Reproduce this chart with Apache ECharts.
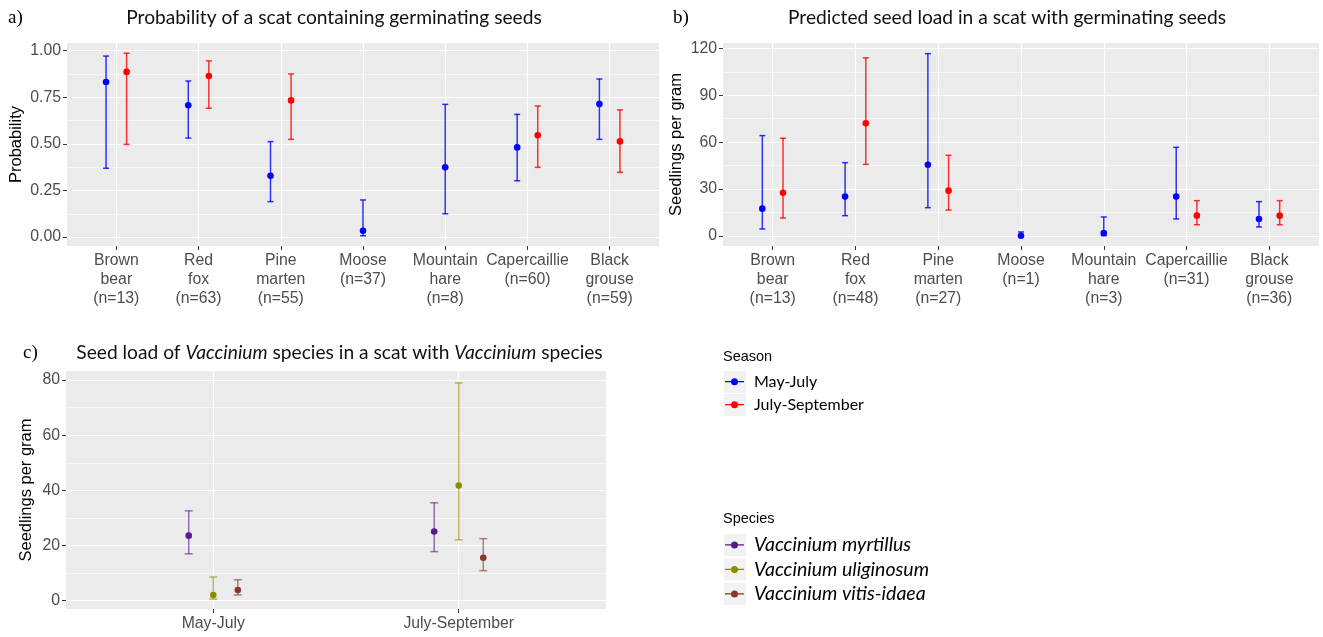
<!DOCTYPE html>
<html><head><meta charset="utf-8">
<script src="https://cdn.jsdelivr.net/npm/echarts@6/dist/echarts.min.js"></script>
<style>html,body{margin:0;padding:0;background:#fff}#c{width:1323px;height:637px}</style>
</head><body><div id="c"></div>
<script>
// ---------- data ----------
const labelsA = ['Brown\nbear\n(n=13)','Red\nfox\n(n=63)','Pine\nmarten\n(n=55)','Moose\n(n=37)','Mountain\nhare\n(n=8)','Capercaillie\n(n=60)','Black\ngrouse\n(n=59)'];
const labelsB = ['Brown\nbear\n(n=13)','Red\nfox\n(n=48)','Pine\nmarten\n(n=27)','Moose\n(n=1)','Mountain\nhare\n(n=3)','Capercaillie\n(n=31)','Black\ngrouse\n(n=36)'];
const seasons = ['May-July','July-September'];
const species = ['Vaccinium myrtillus','Vaccinium uliginosum','Vaccinium vitis-idaea'];

// Panel a: probability
const probMayMean = [0.832,0.707,0.329,0.034,0.374,0.481,0.714];
const probMayLo   = [0.369,0.531,0.190,0.007,0.125,0.302,0.524];
const probMayHi   = [0.971,0.837,0.512,0.199,0.712,0.658,0.848];
const probSepMean = [0.886,0.864,0.733,null,null,0.546,0.513];
const probSepLo   = [0.497,0.691,0.524,null,null,0.374,0.347];
const probSepHi   = [0.986,0.945,0.875,null,null,0.703,0.682];

// Panel b: seed load
const loadMayMean = [17.5,25.2,45.6,0.2,1.9,25.2,10.9];
const loadMayLo   = [4.5,13.0,18.1,0.0,0.2,10.9,5.8];
const loadMayHi   = [64.2,46.9,116.6,2.6,12.2,56.7,22.0];
const loadSepMean = [27.7,72.1,29.0,null,null,13.0,13.0];
const loadSepLo   = [11.5,45.8,16.6,null,null,7.2,7.2];
const loadSepHi   = [62.5,113.9,51.6,null,null,22.6,22.6];

// Panel c: Vaccinium seed load, per species: [May-July, July-September]
const vacMean = [[23.6,25.1],[2.1,41.8],[3.9,15.6]];
const vacLo   = [[17.0,17.8],[0.6,22.1],[2.1,10.9]];
const vacHi   = [[32.6,35.5],[8.6,79.0],[7.6,22.5]];

const probTicks = [0,0.25,0.5,0.75,1];
const probMinor = [0.125,0.375,0.625,0.875];
const loadTicks = [0,30,60,90,120];
const loadMinor = [15,45,75,105];
const vacTicks = [0,20,40,60,80];
const vacMinor = [10,30,50,70];

// ---------- styling ----------
const seasonColors = ['#0000FF','#FF0000'];
const speciesColors = ['#551A8B','#8B8B00','#8B3626'];
const tickLabelColor = '#4D4D4D';
const sansFont = 'Liberation Sans';
const titleFont = 'Lato';

function errRender(capPx, lineOpacity){
  return function(params, api){
    const x = api.value(0), m = api.value(1), lo = api.value(2), hi = api.value(3);
    const pm = api.coord([x,m]), pl = api.coord([x,lo]), ph = api.coord([x,hi]);
    const color = api.visual('color');
    const ls = {stroke: color, lineWidth: 1.5, opacity: lineOpacity};
    return {type:'group', children:[
      {type:'line', shape:{x1:pl[0],y1:pl[1],x2:ph[0],y2:ph[1]}, style: ls},
      {type:'line', shape:{x1:pl[0]-capPx,y1:pl[1],x2:pl[0]+capPx,y2:pl[1]}, style: ls},
      {type:'line', shape:{x1:ph[0]-capPx,y1:ph[1],x2:ph[0]+capPx,y2:ph[1]}, style: ls},
      {type:'circle', shape:{cx:pm[0],cy:pm[1],r:3.3}, style:{fill:color}}
    ]};
  };
}

function dodged(meanA, loA, hiA, meanB, sign){
  const out = [];
  meanA.forEach((m,i)=>{
    if (m == null) return;
    const off = meanB[i] == null ? 0 : sign*0.125;
    out.push([i+off, m, loA[i], hiA[i]]);
  });
  return out;
}

function xAxisCfg(gridIndex, labels){
  const ticks = labels.map((_,i)=>i);
  return {type:'value', gridIndex, min:-0.6, max:labels.length-1+0.6, position:'bottom',
    axisLine:{show:false, onZero:false},
    axisTick:{show:true, customValues:ticks, length:4, lineStyle:{color:'#333333', width:1}},
    axisLabel:{customValues:ticks, formatter:(v)=>labels[Math.round(v)], color:tickLabelColor,
      fontSize:15.8, fontFamily:sansFont, lineHeight:19, margin:5},
    splitLine:{show:true, lineStyle:{color:'#FFFFFF', width:1.2}}
  };
}
function yAxisMajor(gridIndex, min, max, ticks, fmt, name, gap){
  return {type:'value', gridIndex, min, max, position:'left',
    name, nameLocation:'middle', nameGap:gap,
    nameTextStyle:{color:'#000', fontSize:16.5, fontFamily:sansFont},
    axisLine:{show:false, onZero:false},
    axisTick:{show:true, customValues:ticks, length:4, lineStyle:{color:'#333333'}},
    axisLabel:{customValues:ticks, formatter:fmt, color:tickLabelColor, fontSize:15.8, fontFamily:sansFont, margin:6},
    splitLine:{show:true, lineStyle:{color:'#FFFFFF', width:1.2}}
  };
}
function yAxisMinor(gridIndex, min, max, ticks){
  return {type:'value', gridIndex, min, max, position:'left',
    axisLine:{show:false, onZero:false},
    axisTick:{show:false, customValues:ticks},
    axisLabel:{show:false, customValues:ticks},
    splitLine:{show:true, lineStyle:{color:'#FFFFFF', width:0.6}}
  };
}

const series = [];
// panel a
series.push({type:'custom', name:seasons[0], xAxisIndex:0, yAxisIndex:0, itemStyle:{color:seasonColors[0]},
  renderItem: errRender(3, 0.8), data: dodged(probMayMean, probMayLo, probMayHi, probSepMean, -1), z:5});
series.push({type:'custom', name:seasons[1], xAxisIndex:0, yAxisIndex:0, itemStyle:{color:seasonColors[1]},
  renderItem: errRender(3, 0.8), data: dodged(probSepMean, probSepLo, probSepHi, probMayMean, 1), z:5});
// panel b
series.push({type:'custom', name:seasons[0], xAxisIndex:1, yAxisIndex:2, itemStyle:{color:seasonColors[0]},
  renderItem: errRender(3, 0.8), data: dodged(loadMayMean, loadMayLo, loadMayHi, loadSepMean, -1), z:5});
series.push({type:'custom', name:seasons[1], xAxisIndex:1, yAxisIndex:2, itemStyle:{color:seasonColors[1]},
  renderItem: errRender(3, 0.8), data: dodged(loadSepMean, loadSepLo, loadSepHi, loadMayMean, 1), z:5});
// panel c
species.forEach((sp, j)=>{
  const data = seasons.map((s, k)=>[k + (j-1)*0.1, vacMean[j][k], vacLo[j][k], vacHi[j][k]]);
  series.push({type:'custom', name:sp, xAxisIndex:2, yAxisIndex:4, itemStyle:{color:speciesColors[j]},
    renderItem: errRender(4, 0.6), data, z:5});
});

// legend key: line + dot, plus a near-invisible speck at the right to leave space before the label
const iconPath = 'path://M0,3 L19,3 L19,4.2 L0,4.2 Z M6,3.6 A3.5,3.5 0 1,1 13,3.6 A3.5,3.5 0 1,1 6,3.6 Z M23.95,3.6 L24,3.6 L24,3.65 Z';

const option = {
  animation:false,
  backgroundColor:'#FFFFFF',
  grid:[
    {left:67, top:43, width:592, height:203, show:true, backgroundColor:'#EBEBEB', borderWidth:0},
    {left:723, top:43, width:596, height:203, show:true, backgroundColor:'#EBEBEB', borderWidth:0},
    {left:66, top:371, width:540, height:238, show:true, backgroundColor:'#EBEBEB', borderWidth:0}
  ],
  xAxis:[ xAxisCfg(0, labelsA), xAxisCfg(1, labelsB), xAxisCfg(2, seasons) ],
  yAxis:[
    yAxisMajor(0, -0.048, 1.041, probTicks, v=>v.toFixed(2), 'Probability', 42),
    yAxisMinor(0, -0.048, 1.041, probMinor),
    yAxisMajor(1, -6.39, 123.4, loadTicks, v=>String(v), 'Seedlings per gram', 38),
    yAxisMinor(1, -6.39, 123.4, loadMinor),
    yAxisMajor(2, -3.0, 83.3, vacTicks, v=>String(v), 'Seedlings per gram', 31),
    yAxisMinor(2, -3.0, 83.3, vacMinor)
  ],
  legend:[
    {data:seasons, left:725, top:370.2, orient:'vertical', itemGap:0, itemWidth:24, itemHeight:7,
     icon:iconPath, padding:0, selectedMode:false,
     textStyle:{fontFamily:titleFont, fontSize:16, color:'#000', lineHeight:23}},
    {data:species, left:725, top:532.7, orient:'vertical', itemGap:0, itemWidth:24, itemHeight:7,
     icon:iconPath, padding:0, selectedMode:false,
     textStyle:{fontFamily:titleFont, fontSize:19.5, fontStyle:'italic', color:'#000', lineHeight:24.5}}
  ],
  graphic:[
    {type:'rect', shape:{x:724,y:371,width:22,height:22}, style:{fill:'#F2F2F2'}, z:-1},
    {type:'rect', shape:{x:724,y:394,width:22,height:22}, style:{fill:'#F2F2F2'}, z:-1},
    {type:'rect', shape:{x:724,y:534,width:22,height:22}, style:{fill:'#F2F2F2'}, z:-1},
    {type:'rect', shape:{x:724,y:558.5,width:22,height:22}, style:{fill:'#F2F2F2'}, z:-1},
    {type:'rect', shape:{x:724,y:583,width:22,height:22}, style:{fill:'#F2F2F2'}, z:-1},
    {type:'text', x:8, y:18, style:{text:'a)', fontFamily:'Liberation Serif', fontSize:19, fill:'#000', align:'left', verticalAlign:'middle'}},
    {type:'text', x:334, y:18, style:{text:'Probability of a scat containing germinating seeds', fontFamily:titleFont, fontSize:19.2, fill:'#111', align:'center', verticalAlign:'middle'}},
    {type:'text', x:673, y:18, style:{text:'b)', fontFamily:'Liberation Serif', fontSize:19, fill:'#000', align:'left', verticalAlign:'middle'}},
    {type:'text', x:1007, y:18, style:{text:'Predicted seed load in a scat with germinating seeds', fontFamily:titleFont, fontSize:19.2, fill:'#111', align:'center', verticalAlign:'middle'}},
    {type:'text', x:23, y:353, style:{text:'c)', fontFamily:'Liberation Serif', fontSize:19, fill:'#000', align:'left', verticalAlign:'middle'}},
    {type:'text', x:339.5, y:353, style:{
      text:'{n|Seed load of }{i|Vaccinium}{n| species in a scat with }{i|Vaccinium}{n| species}',
      align:'center', verticalAlign:'middle',
      rich:{
        n:{fontFamily:titleFont, fontSize:19.2, fill:'#111'},
        i:{fontFamily:titleFont, fontSize:19.2, fontStyle:'italic', fill:'#111'}
      }}},
    {type:'text', x:723, y:357, style:{text:'Season', fontFamily:sansFont, fontSize:14.5, fill:'#000', align:'left', verticalAlign:'middle'}},
    {type:'text', x:723, y:519, style:{text:'Species', fontFamily:sansFont, fontSize:14.5, fill:'#000', align:'left', verticalAlign:'middle'}}
  ],
  series
};
const chart = echarts.init(document.getElementById('c'), null, {renderer:'canvas'});
chart.setOption(option);
</script>
</body></html>
